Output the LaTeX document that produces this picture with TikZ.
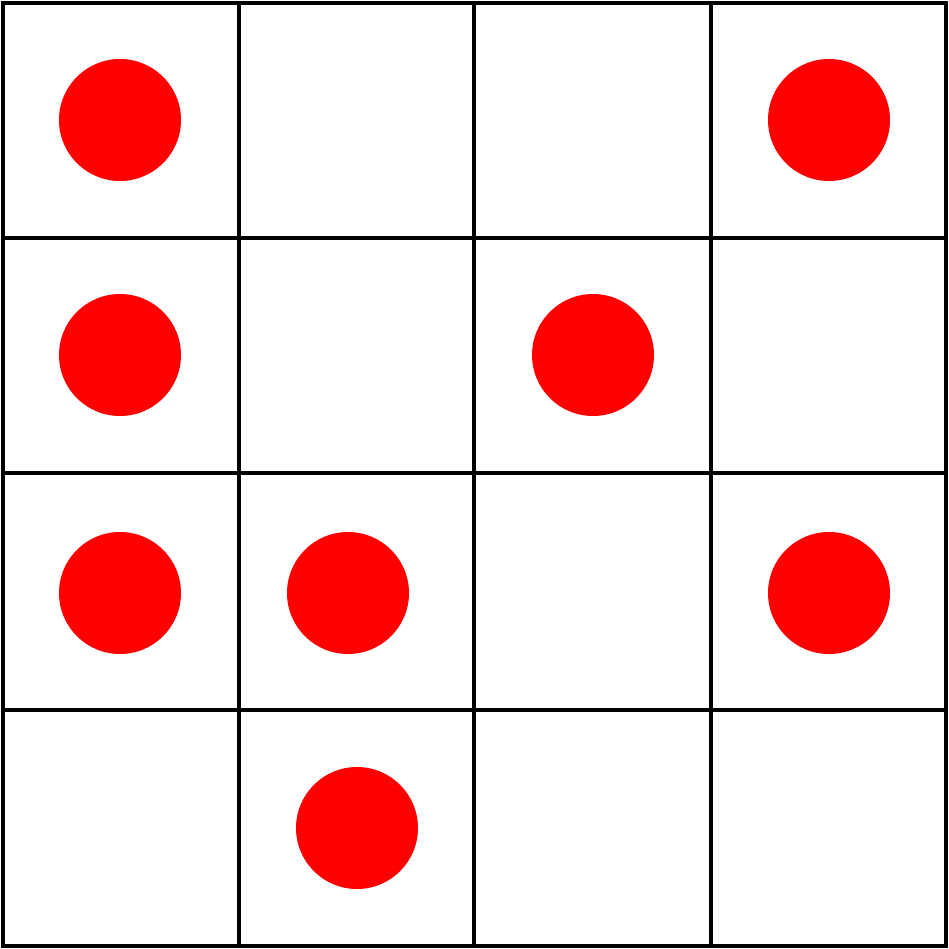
\documentclass[tikz,border=0pt]{standalone}
\definecolor{gridRed}{HTML}{FF0000}

\begin{document}
\begin{tikzpicture}[x=0.01cm,y=-0.01cm,line width=1pt]
  \useasboundingbox (0,0) rectangle (949,949);
  \draw (3,3) rectangle (946,946);
  \draw (239,3) -- (239,946);
  \draw (474,3) -- (474,946);
  \draw (711,3) -- (711,946);
  \draw (3,238) -- (946,238);
  \draw (3,473) -- (946,473);
  \draw (3,710) -- (946,710);
  \fill[gridRed] (120,120) circle (61);
  \fill[gridRed] (829,120) circle (61);
  \fill[gridRed] (120,355) circle (61);
  \fill[gridRed] (593,355) circle (61);
  \fill[gridRed] (120,593) circle (61);
  \fill[gridRed] (348,593) circle (61);
  \fill[gridRed] (829,593) circle (61);
  \fill[gridRed] (357,828) circle (61);
\end{tikzpicture}
\end{document}
